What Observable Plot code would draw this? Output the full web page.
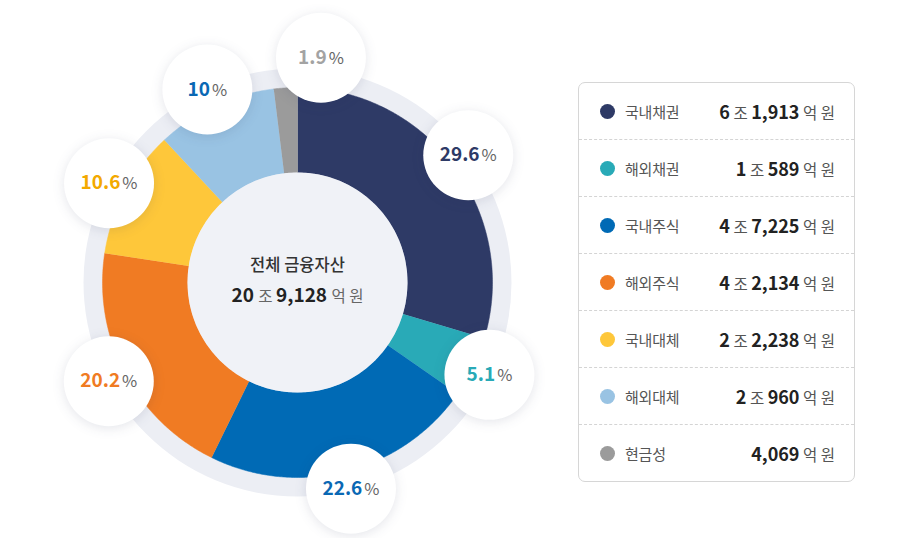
<!DOCTYPE html>
<html>
<head>
<meta charset="utf-8">
<script src="https://cdn.jsdelivr.net/npm/d3@7"></script>
<script src="https://cdn.jsdelivr.net/npm/@observablehq/plot@0.6"></script>
<style>
  html, body { margin: 0; padding: 0; background: #ffffff; }
  body { font-family: "Noto Sans CJK KR", "Noto Sans", sans-serif; }
  #wrap { position: relative; width: 910px; height: 538px; overflow: hidden; }
  #chart { position: absolute; left: 0; top: 0; }
  .legend {
    position: absolute; left: 578px; top: 82px; width: 275px; height: 398px;
    border: 1px solid #d6d6d6; border-radius: 7px; background: #fff;
    display: flex; flex-direction: column;
  }
  .row {
    flex: 1; display: flex; align-items: center; padding: 0 19px 0 21px;
    border-top: 1px dashed #d4d4d4;
  }
  .row:first-child { border-top: none; }
  .dot { width: 15px; height: 15px; border-radius: 50%; flex: none; }
  .name { margin-left: 10px; font-size: 15px; color: #555; flex: 1; letter-spacing: -0.2px; }
  .val { font-size: 15.5px; color: #555; white-space: nowrap; }
  .val b { font-size: 18px; color: #222; font-weight: 700; }
</style>
</head>
<body>
<div id="wrap">
  <div id="chart"></div>
  <div class="legend" id="legend"></div>
</div>
<script>
// ---------- data ----------
const categories = ["국내채권", "해외채권", "국내주식", "해외주식", "국내대체", "해외대체", "현금성"];
const amounts = [61913, 10589, 47225, 42134, 22238, 20960, 4069]; // 억 원
const percentLabels = ["29.6", "5.1", "22.6", "20.2", "10.6", "10", "1.9"];
const sliceColors = ["#2e3a66", "#29aab7", "#006ab5", "#f07b23", "#fec73a", "#99c3e3", "#9b9b9b"];
const labelColors = ["#2e3a66", "#29aab7", "#0a68b4", "#f07b23", "#f3a900", "#0a68b4", "#a3a3a3"];
const centerTitle = "전체 금융자산";

// ---------- layout constants ----------
const W = 910, H = 538;
const cx = 297, cy = 282;
const ringR = 214, outerR = 195, innerR = 110, labelR = 213, bubbleR = 45;

const total = d3.sum(amounts);
function fmtAmount(v) {
  const jo = Math.floor(v / 10000), eok = v % 10000;
  return (jo > 0 ? jo + " 조 " : "") + d3.format(",")(eok) + " 억 원";
}

// slices
let acc = 0;
const slices = categories.map((c, i) => {
  const a0 = acc / total * 2 * Math.PI;
  acc += amounts[i];
  const a1 = acc / total * 2 * Math.PI;
  return { i, c, a0, a1, mid: (a0 + a1) / 2 };
});
const px = (r, a) => cx + r * Math.sin(a);
const py = (r, a) => cy - r * Math.cos(a);

const arcPoints = [];
for (const s of slices) {
  const n = Math.max(2, Math.ceil((s.a1 - s.a0) / (Math.PI / 360)));
  for (let k = 0; k <= n; k++) {
    const a = s.a0 + (s.a1 - s.a0) * k / n;
    arcPoints.push({ i: s.i, x: px(outerR, a), y: py(outerR, a) });
  }
  for (let k = n; k >= 0; k--) {
    const a = s.a0 + (s.a1 - s.a0) * k / n;
    arcPoints.push({ i: s.i, x: px(innerR, a), y: py(innerR, a) });
  }
}

// label angles: midpoints; a small label crowded by a bigger neighbour is pushed away (and slightly out)
const minSep = 31 * Math.PI / 180;
const labelAngles = slices.map(s => s.mid);
const labelRadii = slices.map(() => labelR);
for (let k = 0; k < slices.length; k++) {
  const prev = (k - 1 + slices.length) % slices.length;
  let d = labelAngles[k] - labelAngles[prev];
  if (d < 0) d += 2 * Math.PI;
  if (d < minSep && amounts[k] < amounts[prev]) {
    labelAngles[k] = labelAngles[prev] + minSep;
    labelRadii[k] = labelR + 13;
  }
}
const labels = slices.map((s, k) => ({
  i: s.i,
  x: px(labelRadii[k], labelAngles[k]),
  y: py(labelRadii[k], labelAngles[k]),
  text: percentLabels[s.i] + "%"
}));

const center = [{ x: cx, y: cy }];
const centerText = [
  { x: cx, y: cy - 17, text: centerTitle },
  { x: cx, y: cy + 14, text: fmtAmount(total) }
];

const chart = Plot.plot({
  width: W, height: H,
  margin: 0,
  x: { domain: [0, W], range: [0, W], axis: null },
  y: { domain: [0, H], range: [0, H], axis: null },
  color: { type: "identity" },
  style: { fontFamily: "'Noto Sans CJK KR', sans-serif", background: "transparent" },
  marks: [
    Plot.dot(center, { x: "x", y: "y", r: ringR, fill: "#eceef4", stroke: "none" }),
    Plot.line(arcPoints, { x: "x", y: "y", z: "i", fill: d => sliceColors[d.i], stroke: d => sliceColors[d.i], strokeWidth: 0.5, curve: "linear" }),
    Plot.dot(center, { x: "x", y: "y", r: innerR, fill: "#f0f2f7", stroke: "none" }),
    Plot.dot(labels, { x: "x", y: "y", r: bubbleR, fill: "#ffffff", stroke: "none" }),
    Plot.text(labels, { x: "x", y: "y", text: "text", fill: d => labelColors[d.i], fontSize: 19, fontWeight: 700 }),
    Plot.text(centerText, { x: "x", y: "y", text: "text", fill: "#333", fontSize: 16.5 })
  ]
});
document.getElementById("chart").appendChild(chart);

// ---------- post-styling ----------
const svg = d3.select(chart);
const dotGroups = svg.selectAll('g[aria-label="dot"]').nodes();
d3.select(dotGroups[2]).style("filter", "drop-shadow(0px 2px 6px rgba(30,40,80,0.12))");

const textGroups = svg.selectAll('g[aria-label="text"]').nodes();
// percentage bubbles
d3.select(textGroups[0]).selectAll("text").each(function () {
  const t = d3.select(this);
  const s = t.text();
  const num = s.replace("%", "");
  t.text(null);
  t.append("tspan").text(num);
  t.append("tspan").attr("dx", 2).attr("font-size", 16.5).attr("font-weight", 400).attr("fill", "#666").text("%");
});
// center total
d3.select(textGroups[1]).selectAll("text").each(function () {
  const t = d3.select(this);
  const s = t.text();
  if (!/[0-9]/.test(s)) { t.attr("font-weight", 500).attr("fill", "#333"); return; }
  const tokens = s.split(" ");
  t.text(null);
  tokens.forEach((tok, k) => {
    const isNum = /[0-9]/.test(tok);
    t.append("tspan")
      .attr("font-size", isNum ? 19 : 15.5)
      .attr("font-weight", isNum ? 700 : 400)
      .attr("fill", isNum ? "#222" : "#666")
      .text(tok + (k < tokens.length - 1 ? " " : ""));
  });
});

// ---------- legend ----------
const legend = d3.select("#legend");
categories.forEach((c, i) => {
  const row = legend.append("div").attr("class", "row");
  row.append("span").attr("class", "dot").style("background", sliceColors[i]);
  row.append("span").attr("class", "name").text(c);
  const val = row.append("span").attr("class", "val");
  const tokens = fmtAmount(amounts[i]).split(" ");
  tokens.forEach((tok, k) => {
    if (/[0-9]/.test(tok)) val.append("b").text(tok);
    else val.append("span").text(tok);
    if (k < tokens.length - 1) val.append("span").text(" ");
  });
});
</script>
</body>
</html>
